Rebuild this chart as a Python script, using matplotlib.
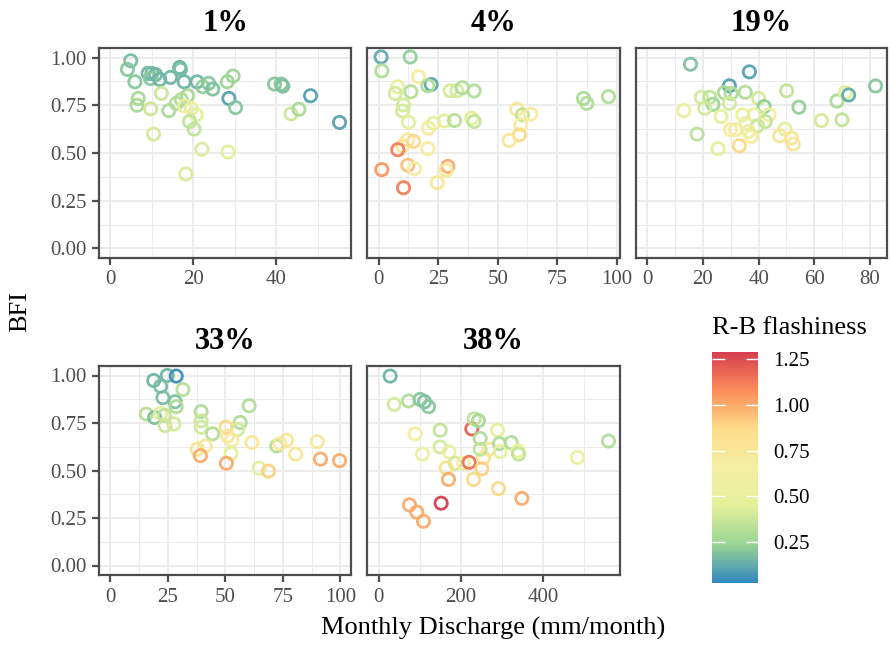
# Math:
import numpy as np

# Plotting:
import matplotlib
matplotlib.use("Agg")
import matplotlib.pyplot as plt
from matplotlib.colors import LinearSegmentedColormap, Normalize
from matplotlib.ticker import MultipleLocator
from matplotlib.cm import ScalarMappable

# ===== DATA =====
panel_titles = ["1%", "4%", "19%", "33%", "38%"]
x_steps = [20, 25, 20, 25, 200]

discharge_1 = [4.9, 4.1, 5.9, 6.7, 6.4, 9.7, 10.4, 9.1, 10.0, 10.9, 9.7, 11.9, 12.3, 14.5, 16.7,
               16.9, 17.8, 14.1, 15.9, 17.1, 18.6, 17.9, 19.5, 20.7, 19.1, 20.2, 18.2, 20.9, 22.3,
               23.7, 24.7, 22.1, 28.2, 29.6, 28.6, 30.2, 28.4, 39.6, 41.2, 41.6, 43.6, 45.5, 48.3, 55.3]
bfi_1 = [0.983, 0.938, 0.873, 0.786, 0.75, 0.731, 0.599, 0.917, 0.917, 0.911, 0.89, 0.885, 0.812,
         0.896, 0.948, 0.938, 0.873, 0.722, 0.76, 0.78, 0.80, 0.746, 0.734, 0.70, 0.665, 0.625, 0.39,
         0.873, 0.847, 0.865, 0.835, 0.52, 0.873, 0.903, 0.786, 0.738, 0.505, 0.861, 0.861, 0.85,
         0.705, 0.729, 0.80, 0.66]
flash_1 = [0.17, 0.2, 0.2, 0.28, 0.28, 0.38, 0.4, 0.15, 0.17, 0.15, 0.2, 0.15, 0.38, 0.15, 0.14,
           0.17, 0.15, 0.28, 0.3, 0.3, 0.28, 0.52, 0.5, 0.45, 0.35, 0.35, 0.42, 0.15, 0.22, 0.2,
           0.18, 0.42, 0.25, 0.25, 0.1, 0.2, 0.45, 0.2, 0.2, 0.18, 0.38, 0.28, 0.1, 0.1]

discharge_2 = [1.1, 13.3, 1.4, 16.8, 22.1, 20.7, 8.0, 7.0, 13.6, 30.1, 32.9, 35.2, 40.1, 10.5, 10.1,
               12.6, 21.0, 23.1, 27.7, 31.9, 39.1, 40.1, 12.3, 10.1, 14.7, 20.7, 8.1, 1.4, 12.3,
               15.1, 29.1, 28.4, 10.5, 24.7, 58.0, 60.4, 63.9, 59.7, 59.1, 54.8, 86.0, 87.4, 96.5]
bfi_2 = [1.003, 1.003, 0.93, 0.899, 0.859, 0.852, 0.847, 0.812, 0.821, 0.826, 0.826, 0.842, 0.825,
         0.752, 0.72, 0.661, 0.63, 0.656, 0.668, 0.67, 0.682, 0.665, 0.569, 0.538, 0.561, 0.523,
         0.517, 0.413, 0.436, 0.418, 0.43, 0.41, 0.318, 0.344, 0.729, 0.70, 0.703, 0.648, 0.595,
         0.566, 0.786, 0.76, 0.795]
flash_2 = [0.12, 0.22, 0.3, 0.7, 0.12, 0.3, 0.5, 0.4, 0.32, 0.4, 0.4, 0.3, 0.3, 0.4, 0.4, 0.45,
           0.7, 0.5, 0.48, 0.32, 0.45, 0.35, 0.75, 0.78, 0.88, 0.7, 1.12, 1.05, 0.95, 0.7, 1.0,
           0.75, 1.12, 0.75, 0.75, 0.35, 0.7, 0.7, 0.88, 0.75, 0.28, 0.3, 0.3]

discharge_3 = [15.5, 36.7, 29.5, 19.4, 22.4, 23.6, 20.6, 13.1, 27.7, 30.1, 29.5, 35.2, 40.0, 42.0,
               43.8, 42.4, 26.5, 34.3, 38.5, 35.5, 39.6, 17.9, 29.9, 31.7, 25.4, 33.1, 37.3, 36.4,
               50.1, 54.5, 49.5, 47.6, 51.8, 52.5, 62.6, 68.2, 70.0, 71.2, 72.4, 82.1]
bfi_3 = [0.965, 0.925, 0.852, 0.792, 0.792, 0.755, 0.734, 0.722, 0.816, 0.812, 0.76, 0.818, 0.786,
         0.743, 0.70, 0.665, 0.691, 0.70, 0.70, 0.656, 0.642, 0.599, 0.622, 0.622, 0.523, 0.538,
         0.587, 0.613, 0.826, 0.74, 0.625, 0.59, 0.578, 0.547, 0.67, 0.772, 0.674, 0.816, 0.804, 0.851]
flash_3 = [0.18, 0.1, 0.1, 0.4, 0.35, 0.25, 0.4, 0.52, 0.28, 0.3, 0.4, 0.3, 0.4, 0.22, 0.7, 0.35,
           0.45, 0.55, 0.45, 0.55, 0.38, 0.33, 0.7, 0.7, 0.45, 0.88, 0.7, 0.55, 0.35, 0.22, 0.45,
           0.75, 0.78, 0.78, 0.4, 0.28, 0.35, 0.45, 0.12, 0.2]

discharge_4 = [18.8, 24.7, 28.6, 21.8, 31.5, 22.8, 28.1, 28.6, 15.6, 19.2, 21.8, 23.5, 23.8, 27.6,
               39.4, 39.4, 39.4, 44.4, 60.3, 56.4, 55.3, 50.2, 50.9, 52.8, 52.4, 37.7, 41.3, 39.1,
               50.4, 61.5, 72.3, 73.7, 76.6, 80.5, 64.6, 68.7, 89.9, 91.3, 99.6]
bfi_4 = [0.974, 1.0, 0.997, 0.943, 0.926, 0.883, 0.862, 0.836, 0.797, 0.779, 0.80, 0.79, 0.736,
         0.745, 0.81, 0.762, 0.728, 0.693, 0.841, 0.753, 0.716, 0.728, 0.681, 0.659, 0.59, 0.612,
         0.629, 0.578, 0.538, 0.647, 0.629, 0.641, 0.659, 0.586, 0.512, 0.497, 0.652, 0.56, 0.552]
flash_4 = [0.15, 0.15, 0.05, 0.17, 0.32, 0.17, 0.18, 0.3, 0.32, 0.18, 0.45, 0.35, 0.38, 0.4, 0.3,
           0.38, 0.4, 0.32, 0.3, 0.3, 0.4, 0.88, 0.75, 0.7, 0.45, 0.8, 0.75, 1.0, 1.0, 0.75, 0.3,
           0.7, 0.75, 0.75, 0.45, 0.9, 0.75, 1.0, 1.0]

discharge_5 = [28.3, 38.1, 72.9, 101.2, 111.7, 121.5, 89.1, 149.8, 106.9, 149.8, 171.7, 186.2,
               206.5, 220.2, 226.7, 232.4, 242.9, 247.0, 164.4, 170.0, 255.1, 251.0, 268.8, 247.0,
               230.8, 289.0, 293.9, 295.6, 322.3, 338.5, 340.1, 291.5, 348.2, 152.2, 75.3, 93.1,
               109.3, 483.4, 558.7]
bfi_5 = [0.997, 0.848, 0.866, 0.874, 0.862, 0.836, 0.693, 0.712, 0.586, 0.624, 0.598, 0.538, 0.538,
         0.543, 0.719, 0.772, 0.762, 0.669, 0.514, 0.453, 0.566, 0.509, 0.612, 0.612, 0.453, 0.712,
         0.641, 0.60, 0.647, 0.603, 0.586, 0.405, 0.353, 0.328, 0.319, 0.281, 0.233, 0.569, 0.655]
flash_5 = [0.15, 0.4, 0.3, 0.2, 0.18, 0.2, 0.7, 0.35, 0.55, 0.4, 0.55, 0.4, 0.7, 1.15, 1.2, 0.35,
           0.28, 0.3, 0.85, 1.0, 0.8, 0.9, 0.75, 0.35, 0.88, 0.5, 0.3, 0.5, 0.3, 0.5, 0.35, 0.88,
           1.0, 1.29, 1.0, 1.0, 1.0, 0.55, 0.3]

spectral_colors = ["#3288BD", "#99D594", "#E3F09A", "#F5EFA2", "#FDDD8A", "#FC8D59", "#D53E4F"]
flash_ticks = [0.25, 0.50, 0.75, 1.00, 1.25]
flash_range = (0.026, 1.29)
# ================

FONT = "Liberation Serif"
W, H = 890, 646


def rect(left, top, right, bottom):
    # pixel box -> figure fraction
    return [left / W, (H - bottom) / H, (right - left) / W, (bottom - top) / H]


def style_panel(ax, title, step, x_max, show_y):
    ax.set_xlim(-0.05 * x_max, 1.05 * x_max)
    ax.set_ylim(-0.05, 1.05)
    ax.xaxis.set_major_locator(MultipleLocator(step))
    ax.xaxis.set_minor_locator(MultipleLocator(step / 2))
    ax.yaxis.set_major_locator(MultipleLocator(0.25))
    ax.yaxis.set_minor_locator(MultipleLocator(0.125))
    ax.yaxis.set_major_formatter(lambda v, p: f"{v:.2f}")
    ax.grid(which="major", color="#EBEBEB", linewidth=1.3)
    ax.grid(which="minor", color="#EBEBEB", linewidth=0.7)
    ax.set_axisbelow(True)
    for s in ax.spines.values():
        s.set_color("#4D4D4D")
        s.set_linewidth(1.6)
    ax.tick_params(which="minor", length=0)
    ax.tick_params(which="major", length=5, width=1.6, color="#4D4D4D",
                   labelcolor="#4D4D4D", labelsize=15, pad=4)
    ax.tick_params(axis="y", left=show_y, labelleft=show_y)
    for lab in ax.get_xticklabels() + ax.get_yticklabels():
        lab.set_fontname(FONT)
    ax.set_title(title, fontname=FONT, fontsize=22, fontweight="bold", pad=12)


if __name__ == "__main__":
    cmap = LinearSegmentedColormap.from_list("spectral", spectral_colors)
    norm = Normalize(*flash_range)

    fig = plt.figure(figsize=(W / 100, H / 100), dpi=100)

    boxes = [rect(99, 48, 351, 258), rect(367, 48, 620, 258), rect(636, 48, 887, 258),
             rect(99, 366, 351, 575), rect(367, 366, 620, 575)]
    panels = [(discharge_1, bfi_1, flash_1), (discharge_2, bfi_2, flash_2),
              (discharge_3, bfi_3, flash_3), (discharge_4, bfi_4, flash_4),
              (discharge_5, bfi_5, flash_5)]

    for i, (x, y, f) in enumerate(panels):
        ax = fig.add_axes(boxes[i])
        ax.scatter(x, y, s=78, facecolors="none", edgecolors=cmap(norm(np.array(f))),
                   linewidths=2.0, alpha=0.95, zorder=3)
        style_panel(ax, panel_titles[i], x_steps[i], max(x), show_y=(i % 3 == 0))

    fig.text(20 / W, 1 - 311.5 / H, "BFI", rotation=90, ha="center", va="center",
             fontname=FONT, fontsize=19)
    fig.text(493 / W, 1 - 628 / H, "Monthly Discharge (mm/month)", ha="center", va="center",
             fontname=FONT, fontsize=19)

    # Colour bar:
    cax = fig.add_axes(rect(712, 352, 758, 583))
    cb = fig.colorbar(ScalarMappable(norm=norm, cmap=cmap), cax=cax, ticks=flash_ticks)
    cb.outline.set_visible(False)
    cax.tick_params(direction="in", length=9, width=1, color="white", left=True, right=True,
                    labelsize=15, labelcolor="black", pad=11)
    cax.set_yticklabels([f"{t:.2f}" for t in flash_ticks], fontname=FONT)
    fig.text(712 / W, 1 - 328 / H, "R-B flashiness", ha="left", va="center",
             fontname=FONT, fontsize=19)

    plt.savefig("out.png", dpi=100)
